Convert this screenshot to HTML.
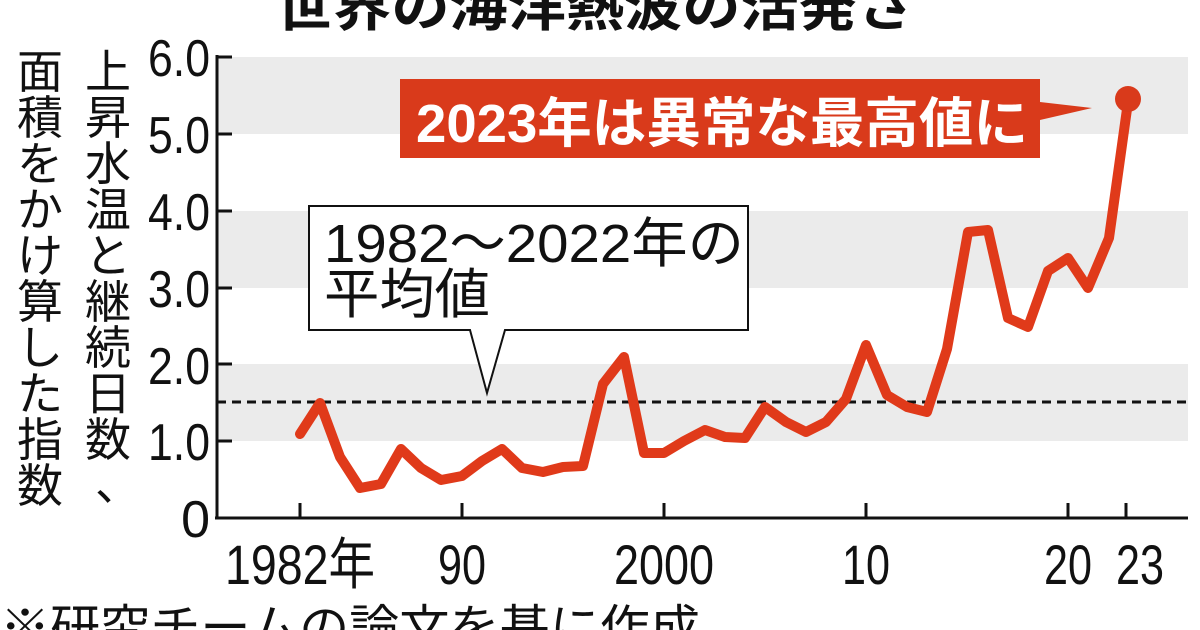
<!DOCTYPE html>
<html><head><meta charset="utf-8"><style>
body{margin:0;background:#fff;}
svg{display:block}
text{font-family:"Liberation Sans","Noto Sans CJK JP",sans-serif;}
</style></head><body>
<svg width="1200" height="630" viewBox="0 0 1200 630">
<rect width="1200" height="630" fill="#fff"/>
<text x="595" y="26" text-anchor="middle" font-size="52" font-weight="bold" fill="#111" textLength="640" lengthAdjust="spacingAndGlyphs">世界の海洋熱波の活発さ</text>
<rect x="217" y="57" width="971" height="77" fill="#ebebeb"/>
<rect x="217" y="211" width="971" height="77" fill="#ebebeb"/>
<rect x="217" y="364" width="971" height="77" fill="#ebebeb"/>
<line x1="217" y1="55" x2="217" y2="519" stroke="#111" stroke-width="3"/>
<line x1="215" y1="518" x2="1188" y2="518" stroke="#111" stroke-width="3"/>
<g stroke="#111" stroke-width="3">
<line x1="217" y1="57" x2="232" y2="57"/><line x1="217" y1="134" x2="232" y2="134"/>
<line x1="217" y1="211" x2="232" y2="211"/><line x1="217" y1="288" x2="232" y2="288"/>
<line x1="217" y1="364" x2="232" y2="364"/><line x1="217" y1="441" x2="232" y2="441"/>
<line x1="300" y1="518" x2="300" y2="503"/><line x1="462" y1="518" x2="462" y2="503"/>
<line x1="664" y1="518" x2="664" y2="503"/><line x1="866" y1="518" x2="866" y2="503"/>
<line x1="1068" y1="518" x2="1068" y2="503"/><line x1="1126" y1="518" x2="1126" y2="503"/>
</g>
<g font-size="52" fill="#111" text-anchor="end">
<text x="210" y="76" textLength="62" lengthAdjust="spacingAndGlyphs">6.0</text>
<text x="210" y="153" textLength="62" lengthAdjust="spacingAndGlyphs">5.0</text>
<text x="210" y="230" textLength="62" lengthAdjust="spacingAndGlyphs">4.0</text>
<text x="210" y="307" textLength="62" lengthAdjust="spacingAndGlyphs">3.0</text>
<text x="210" y="384" textLength="62" lengthAdjust="spacingAndGlyphs">2.0</text>
<text x="210" y="460" textLength="62" lengthAdjust="spacingAndGlyphs">1.0</text>
<text x="210" y="537">0</text>
</g>
<g font-size="56" fill="#111" text-anchor="middle">
<text x="300" y="584" textLength="150" lengthAdjust="spacingAndGlyphs">1982年</text>
<text x="462" y="584" textLength="48" lengthAdjust="spacingAndGlyphs">90</text>
<text x="664" y="584" textLength="100" lengthAdjust="spacingAndGlyphs">2000</text>
<text x="866" y="584" textLength="48" lengthAdjust="spacingAndGlyphs">10</text>
<text x="1068" y="584" textLength="48" lengthAdjust="spacingAndGlyphs">20</text>
<text x="1140" y="584" textLength="48" lengthAdjust="spacingAndGlyphs">23</text>
</g>
<g font-size="46" fill="#111" text-anchor="middle">
<text x="108" y="88">上</text><text x="108" y="134">昇</text><text x="108" y="180">水</text><text x="108" y="226">温</text><text x="108" y="272">と</text><text x="108" y="318">継</text><text x="108" y="364">続</text><text x="108" y="410">日</text><text x="108" y="456">数</text><text x="118" y="500">、</text>
<text x="40" y="88">面</text><text x="40" y="134">積</text><text x="40" y="180">を</text><text x="40" y="226">か</text><text x="40" y="272">け</text><text x="40" y="318">算</text><text x="40" y="364">し</text><text x="40" y="410">た</text><text x="40" y="456">指</text><text x="40" y="502">数</text>
</g>
<text x="0" y="644" font-size="48" fill="#111" textLength="700" lengthAdjust="spacingAndGlyphs">※研究チームの論文を基に作成</text>
<line x1="217" y1="402" x2="1188" y2="402" stroke="#111" stroke-width="3" stroke-dasharray="9,6"/>
<path d="M309 206 H748 V330 H505 L487 393 L470 330 H309 Z" fill="#fff" stroke="#111" stroke-width="2"/>
<text x="324" y="262" font-size="54" fill="#111" textLength="420" lengthAdjust="spacingAndGlyphs">1982～2022年の</text>
<text x="324" y="313" font-size="54" fill="#111" textLength="166" lengthAdjust="spacingAndGlyphs">平均値</text>
<polyline fill="none" stroke="#e03a1a" stroke-width="10" stroke-linejoin="round" stroke-linecap="round" points="
300,434 320,403 340,457 360,488 381,484 401,449 421,468 441,480 462,476 482,461 502,449 522,468 543,472 563,467 583,466 603,384 624,357 644,453 664,453 684,441 705,430 725,437 745,438 765,407 786,422 806,432 826,422 846,399 866,345 887,395 907,407 927,412 947,349 968,232 988,230 1008,318 1028,327 1048,271 1068,258 1088,288 1109,238 1128,102"/>
<path d="M400 79 H1040 V102 L1092 108 L1040 120 V158 H400 Z" fill="#d93a1b"/>
<text x="722" y="142" text-anchor="middle" font-size="54" font-weight="bold" fill="#fff" textLength="612" lengthAdjust="spacingAndGlyphs">2023年は異常な最高値に</text>
<circle cx="1128" cy="99" r="13" fill="#d93a1b"/>
</svg>
</body></html>
